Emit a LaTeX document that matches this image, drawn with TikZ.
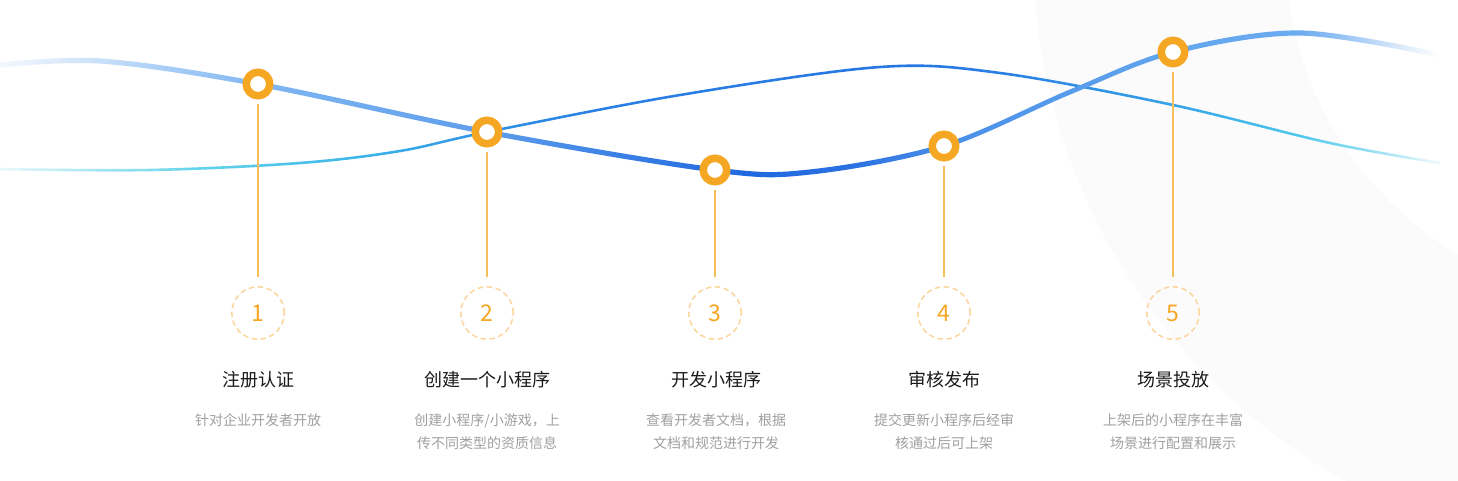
\documentclass[tikz,border=0pt]{standalone}
\usepackage{fontspec}
\setmainfont{Noto Sans CJK SC}
\definecolor{orng}{HTML}{F5A623}
\definecolor{stemc}{HTML}{F6BF5C}
\definecolor{dashc}{HTML}{FBD59C}
\definecolor{titlec}{HTML}{1A1A1A}
\definecolor{descc}{HTML}{A0A0A0}
\definecolor{bgring}{HTML}{FBFBFC}
% thick curve colours
\definecolor{tk0}{HTML}{F4F8FE}
\definecolor{tk1}{HTML}{DCEAFB}
\definecolor{tk2}{HTML}{B0D2F7}
\definecolor{tk3}{HTML}{80B7F2}
\definecolor{tk4}{HTML}{5E9DEC}
\definecolor{tk5}{HTML}{3F84E6}
\definecolor{tk6}{HTML}{1F68DF}
\definecolor{tk7}{HTML}{2A70E1}
\definecolor{tk8}{HTML}{4A8FE8}
\definecolor{tk9}{HTML}{62A6EE}
\definecolor{tk10}{HTML}{6CABF0}
\definecolor{tk11}{HTML}{A0C8F5}
\definecolor{tk12}{HTML}{DCEAFB}
% thin curve colours
\definecolor{tn0}{HTML}{EAF9FC}
\definecolor{tn1}{HTML}{B0E8F3}
\definecolor{tn2}{HTML}{62D3EB}
\definecolor{tn3}{HTML}{40B8EA}
\definecolor{tn4}{HTML}{2E92E6}
\definecolor{tn5}{HTML}{2A80E4}
\definecolor{tn6}{HTML}{2577E3}
\definecolor{tn7}{HTML}{2A7FE4}
\definecolor{tn8}{HTML}{34A2E8}
\definecolor{tn9}{HTML}{50C8EC}
\definecolor{tn10}{HTML}{A0E2F3}
\definecolor{tn11}{HTML}{F0FAFD}
\pgfdeclarehorizontalshading{thickgrad}{100bp}{color(0bp)=(tk0); color(25bp)=(tk0); color(27.06bp)=(tk1); color(30.14bp)=(tk2); color(33.85bp)=(tk3); color(41.70bp)=(tk4); color(45.58bp)=(tk5); color(50.72bp)=(tk6); color(54.15bp)=(tk7); color(57.37bp)=(tk8); color(65.23bp)=(tk9); color(69.58bp)=(tk10); color(71.30bp)=(tk11); color(73.01bp)=(tk12); color(74.38bp)=(white); color(100bp)=(white)}
\pgfdeclarehorizontalshading{thingrad}{100bp}{color(0bp)=(tn0); color(25bp)=(tn0); color(27.74bp)=(tn1); color(31.86bp)=(tn2); color(37.0bp)=(tn3); color(41.70bp)=(tn4); color(45.58bp)=(tn5); color(55.86bp)=(tn6); color(59.29bp)=(tn7); color(65.23bp)=(tn8); color(69.58bp)=(tn9); color(72.33bp)=(tn10); color(74.38bp)=(tn11); color(100bp)=(white)}
\tikzset{
  dot/.style={circle, draw=orng, line width=7.5pt, fill=white, minimum size=23.5pt, inner sep=0pt},
  numc/.style={circle, draw=dashc, line width=1.5pt, dash pattern=on 5.5pt off 3.5pt, minimum size=52.5pt, inner sep=0pt, text=orng, font=\fontsize{23pt}{23pt}\selectfont},
  stem/.style={draw=stemc, line width=1.1pt, shorten <=4.5pt, shorten >=9pt},
  ttl/.style={text=titlec, font=\fontsize{18pt}{22pt}\selectfont, inner sep=0pt},
  dsc/.style={text=descc, font=\fontsize{14pt}{23pt}\selectfont, align=center, inner sep=0pt}
}
\begin{document}
\begin{tikzpicture}[x=1pt,y=-1pt]
\useasboundingbox (0,0) rectangle (1458,480);
\fill[white] (0,0) rectangle (1458,480);
% faint background ring
\begin{scope}
  \clip (0,0) rectangle (1458,480);
  \fill[bgring, even odd rule] (1640,-50) circle[radius=607pt] (1640,-50) circle[radius=355pt];
\end{scope}
% thin curve
\begin{scope}
  \clip[yshift=1.3pt] plot[smooth,tension=0.55] coordinates {(-10,169) (150,170) (300,163) (400,151) (487,132) (680,95) (880,67) (1000,73) (1173,105) (1330,143) (1440,163)} -- (1440,600) -- (-10,600) -- cycle;
  \clip[yshift=-1.3pt] plot[smooth,tension=0.55] coordinates {(-10,169) (150,170) (300,163) (400,151) (487,132) (680,95) (880,67) (1000,73) (1173,105) (1330,143) (1440,163)} -- (1440,-100) -- (-10,-100) -- cycle;
  \shade[shading=thingrad] (0,0) rectangle (1458,480);
\end{scope}
% thick curve
\begin{scope}
  \clip[yshift=2.6pt] plot[smooth,tension=0.55] coordinates {(-10,66) (100,61) (258,84) (487,132) (715,170) (810,172) (944,146) (1070,92) (1173,52) (1300,33) (1440,55)} -- (1440,600) -- (-10,600) -- cycle;
  \clip[yshift=-2.6pt] plot[smooth,tension=0.55] coordinates {(-10,66) (100,61) (258,84) (487,132) (715,170) (810,172) (944,146) (1070,92) (1173,52) (1300,33) (1440,55)} -- (1440,-100) -- (-10,-100) -- cycle;
  \shade[shading=thickgrad] (0,0) rectangle (1458,480);
\end{scope}
% dots, number circles, stems
\foreach \i/\x/\y in {1/258/84, 2/487/132, 3/715/170, 4/944/146, 5/1173/52}{
  \node[dot] (dot\i) at (\x,\y) {};
  \node[numc] (num\i) at (\x,313) {\i};
  \draw[stem] (dot\i) -- (num\i);
}
% titles
\node[ttl] (t1) at (258,380) {注册认证};
\node[ttl] (t2) at (487,380) {创建一个小程序};
\node[ttl] (t3) at (716,380) {开发小程序};
\node[ttl] (t4) at (944,380) {审核发布};
\node[ttl] (t5) at (1173,380) {场景投放};
% descriptions
\node[dsc] (d1) at (258,420) {针对企业开发者开放};
\node[dsc] (d2) at (487,431.5) {创建小程序/小游戏，上\\传不同类型的资质信息};
\node[dsc] (d3) at (716,431.5) {查看开发者文档，根据\\文档和规范进行开发};
\node[dsc] (d4) at (944,431.5) {提交更新小程序后经审\\核通过后可上架};
\node[dsc] (d5) at (1173,431.5) {上架后的小程序在丰富\\场景进行配置和展示};
\end{tikzpicture}
\end{document}
